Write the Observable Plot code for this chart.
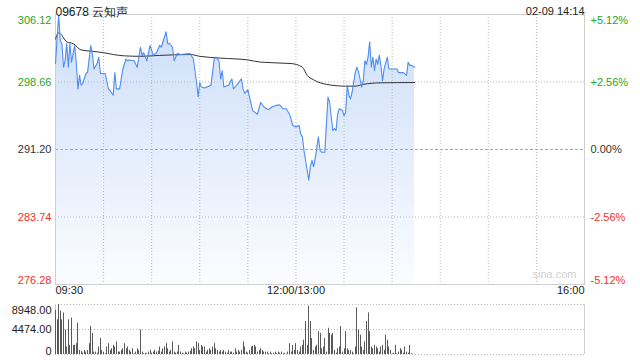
<!DOCTYPE html>
<html><head><meta charset="utf-8">
<script src="https://cdn.jsdelivr.net/npm/d3@7"></script>
<script src="https://cdn.jsdelivr.net/npm/@observablehq/plot@0.6"></script>
<style>
body{margin:0;background:#fff;font-family:"Liberation Sans",Arial,sans-serif;}
#wrap{position:relative;width:640px;height:360px;overflow:hidden;background:#fff}
#main,#vol{position:absolute;left:0}
#main{top:0}#vol{top:300px}
</style></head><body><div id="wrap"><div id="main"></div><div id="vol"></div></div>
<script>
const title = "09678 云知声";
const stamp = "02-09 14:14";
const prevClose = 291.20;
const priceTicks = [306.12, 298.66, 291.20, 283.74, 276.28];
const pctLabels = ["+5.12%", "+2.56%", "0.00%", "-2.56%", "-5.12%"];
const timeTicks = ["09:30", "12:00", "16:00"];
const timeLabels = ["09:30", "12:00/13:00", "16:00"];
const volTicks = [8948, 4474, 0];
const volLabels = ["8948.00", "4474.00", "0"];

const priceTimes = ["09:30","09:31","09:32","09:33","09:34","09:35","09:36","09:37","09:38","09:39","09:40","09:42","09:43","09:44","09:45","09:46","09:47","09:49","09:50","09:52","09:53","09:54","09:56","09:57","09:58","10:01","10:02","10:03","10:04","10:06","10:07","10:08","10:10","10:12","10:14","10:15","10:16","10:19","10:21","10:23","10:24","10:25","10:27","10:29","10:31","10:33","10:35","10:36","10:39","10:40","10:41","10:43","10:44","10:46","10:48","10:54","10:56","10:58","10:59","11:00","11:01","11:03","11:07","11:09","11:10","11:12","11:13","11:14","11:15","11:18","11:20","11:21","11:23","11:26","11:27","11:28","11:30","11:33","11:36","11:38","11:40","11:43","11:45","11:48","11:50","11:52","11:54","11:56","11:58","12:00","13:02","13:03","13:04","13:05","13:06","13:07","13:08","13:09","13:10","13:11","13:12","13:14","13:15","13:16","13:18","13:19","13:20","13:21","13:23","13:24","13:25","13:26","13:27","13:29","13:30","13:31","13:32","13:33","13:34","13:35","13:37","13:38","13:39","13:41","13:42","13:43","13:44","13:45","13:46","13:47","13:48","13:49","13:50","13:51","13:52","13:53","13:54","13:55","13:57","13:58","14:01","14:03","14:04","14:07","14:09","14:10","14:11","14:12","14:14"];
const priceValues = [300.7,303.5,306.0,303.2,302.9,300.3,301.0,302.9,300.3,302.9,300.85,302.7,300.7,297.9,299.4,298.3,298.5,299.6,299.7,302.7,301.8,300.1,300.7,301.4,299.6,299.6,298.8,297.9,297.7,297.2,299.7,297.9,297.9,300.1,301.2,301.0,301.1,301.0,300.3,302.5,301.6,301.9,301.0,302.7,301.6,301.9,302.7,302.5,304.2,302.9,302.9,302.5,301.0,301.8,301.7,301.8,301.2,298.6,297.0,298.6,298.1,298.0,298.3,301.2,301.4,301.0,299.0,299.9,298.1,298.3,299.0,297.9,298.3,299.0,297.9,297.4,297.8,295.5,295.1,296.4,295.9,295.6,295.9,296.1,296.1,295.7,295.7,295.1,293.85,293.7,293.85,292.9,292.6,291.1,290.0,288.9,287.8,289.3,290.0,289.3,290.2,292.6,291.1,290.9,290.9,294.0,297.0,296.4,293.3,293.5,293.3,295.1,295.7,295.5,294.96,295.3,298.3,297.2,296.8,297.5,299.7,300.3,299.8,298.1,298.8,301.0,300.6,301.4,303.1,300.3,301.4,299.9,301.2,300.6,301.6,300.5,298.8,300.1,301.4,300.1,300.1,300.1,299.7,299.7,299.4,300.85,300.5,300.5,300.3];

const avgTimes = ["09:30","09:32","09:33","09:37","09:41","09:46","09:52","10:00","10:06","10:13","10:23","10:35","10:54","11:00","11:13","11:30","11:38","11:57","13:04","13:07","13:11","13:19","13:31","13:37","13:42","13:53","14:14"];
const avgValues = [303.4,304.1,304.0,303.1,302.9,302.2,302.07,301.9,301.7,301.55,301.5,301.6,301.7,301.5,301.3,301.1,300.85,300.7,300.3,299.4,298.9,298.4,298.2,298.2,298.4,298.57,298.6];

// one value per minute from 09:30 (afternoon continues at 13:00)
const volumes = [7910,6210,8948,7730,6210,7430,4380,1340,6210,1640,
6510,1640,1640,1950,5600,730,550,240,730,430,
730,1950,4990,3770,430,430,240,1340,2860,730,430,
120,1340,1950,730,1030,1640,1340,2250,430,430,
730,1030,1950,1030,1340,730,430,1030,120,430,1030,730,
4380,430,120,240,120,430,730,240,430,
730,430,610,1340,430,1030,1340,1950,1030,430,
730,2250,430,240,430,1640,430,240,120,430,240,
430,610,1030,1340,1030,2250,1950,730,1640,1340,
1340,430,730,1030,730,1340,1950,1030,730,430,
730,430,730,430,240,730,430,430,240,
1030,430,730,430,730,2250,1340,430,240,730,1340,1460,1640,1340,430,730,1030,730,430,
430,430,120,430,120,240,430,120,430,240,430,120,240,60,430,1950,430,1640,730,
1950,730,430,1340,1640,2560,5900,1640,8640,5900,2860,730,1340,1640,4080,3770,1030,
1340,2860,430,4690,3770,3470,3770,730,240,1030,1340,4990,430,1030,4080,1030,730,
730,430,120,1340,8340,4380,3470,1340,730,2250,5900,7430,4080,1340,1030,1640,1340,1030,430,
1340,1640,730,3470,2560,1340,730,120,240,1640,120,430,1030,730,240,
1340,430,240,1640,120,60,60];

function idx(t) {
  const [h, m] = t.split(":").map(Number);
  const mins = h * 60 + m - (9 * 60 + 30);
  return mins >= 210 ? mins - 60 : mins;
}
const priceData = priceTimes.map((t, k) => ({i: idx(t), p: priceValues[k]}));
const avgData = avgTimes.map((t, k) => ({i: idx(t), p: avgValues[k]}));
const volData = volumes.map((v, i) => ({i, v}));
const tickData = priceTicks.map((p, k) => ({p, pct: pctLabels[k]}));
const colorOf = p => p > prevClose ? "#1fa51f" : p < prevClose ? "#f0302c" : "#333";
const vGrid = d3.range(30, 330, 30);
const font = "'Liberation Sans', Arial, sans-serif";

const gradient = () => {
  const defs = document.createElementNS("http://www.w3.org/2000/svg", "defs");
  defs.innerHTML = '<linearGradient id="areaGrad" x1="0" y1="0" x2="0" y2="1"><stop offset="0%" stop-color="#cddef9"/><stop offset="100%" stop-color="#fbfcff"/></linearGradient>';
  return defs;
};

const main = Plot.plot({
  width: 640, height: 300,
  marginLeft: 55, marginRight: 56, marginTop: 14, marginBottom: 16,
  x: {domain: [0, 330], axis: null},
  y: {domain: [priceTicks[4], priceTicks[0]], axis: null},
  color: {type: "identity"},
  style: {fontFamily: font, fontSize: "11px", background: "transparent"},
  marks: [
    gradient,
    Plot.areaY(priceData, {x: "i", y1: () => priceTicks[4], y2: "p", fill: "url(#areaGrad)"}),
    Plot.ruleX(vGrid, {x: d => d, stroke: "#b8b8b8", strokeDasharray: "1,2"}),
    Plot.ruleY([priceTicks[1], priceTicks[3]], {y: d => d, stroke: "#b8b8b8", strokeDasharray: "1,2"}),
    Plot.ruleY([prevClose], {y: d => d, stroke: "#a8a8a8", strokeDasharray: "3,2"}),
    Plot.frame({stroke: "#cfcfcf"}),
    Plot.line(avgData, {x: "i", y: "p", stroke: "#333", strokeWidth: 1, curve: "monotone-x"}),
    Plot.line(priceData, {x: "i", y: "p", stroke: "#4d8ef0", strokeWidth: 1.1}),
    // left price labels
    Plot.text(tickData.slice(0, 1), {y: "p", text: d => d.p.toFixed(2), frameAnchor: "left", textAnchor: "end", lineAnchor: "top", dx: -4, dy: 2, fill: d => colorOf(d.p)}),
    Plot.text(tickData.slice(1, 4), {y: "p", text: d => d.p.toFixed(2), frameAnchor: "left", textAnchor: "end", dx: -4, fill: d => colorOf(d.p)}),
    Plot.text(tickData.slice(4), {y: "p", text: d => d.p.toFixed(2), frameAnchor: "left", textAnchor: "end", lineAnchor: "bottom", dx: -4, dy: -1, fill: d => colorOf(d.p)}),
    // right percent labels
    Plot.text(tickData.slice(0, 1), {y: "p", text: "pct", frameAnchor: "right", textAnchor: "start", lineAnchor: "top", dx: 6, dy: 2, fill: d => colorOf(d.p)}),
    Plot.text(tickData.slice(1, 4), {y: "p", text: "pct", frameAnchor: "right", textAnchor: "start", dx: 6, fill: d => colorOf(d.p)}),
    Plot.text(tickData.slice(4), {y: "p", text: "pct", frameAnchor: "right", textAnchor: "start", lineAnchor: "bottom", dx: 6, dy: -1, fill: d => colorOf(d.p)}),
    // time labels
    Plot.text([0], {x: () => idx(timeTicks[0]), text: () => timeLabels[0], frameAnchor: "bottom", textAnchor: "start", dy: 9, fill: "#222"}),
    Plot.text([0], {x: () => idx(timeTicks[1]), text: () => timeLabels[1], frameAnchor: "bottom", textAnchor: "middle", dy: 9, fill: "#222"}),
    Plot.text([0], {x: () => idx(timeTicks[2]), text: () => timeLabels[2], frameAnchor: "bottom", textAnchor: "end", dy: 9, fill: "#222"}),
    // title and timestamp
    Plot.text([title], {frameAnchor: "top-left", textAnchor: "start", dy: -7, fontSize: 12, fill: "#222"}),
    Plot.text([stamp], {frameAnchor: "top-right", textAnchor: "end", dy: -7, fill: "#222"}),
    Plot.text(["sina.com"], {frameAnchor: "bottom-right", textAnchor: "end", dx: -8, dy: -7, fill: "#cfcfcf"})
  ]
});
document.getElementById("main").appendChild(main);

const vol = Plot.plot({
  width: 640, height: 60,
  marginLeft: 55, marginRight: 56, marginTop: 4, marginBottom: 6,
  x: {domain: [0, 330], axis: null, round: true},
  y: {domain: [0, volTicks[0]], axis: null},
  style: {fontFamily: font, fontSize: "11px", background: "transparent"},
  marks: [
    Plot.ruleY(volTicks, {y: d => d, stroke: "#b8b8b8", strokeDasharray: "1,2"}),
    Plot.ruleX([0, 330], {x: d => d, stroke: "#d0d0d0"}),
    Plot.ruleX(volData, {x: "i", y1: () => 0, y2: "v", stroke: "#5a5a5a", strokeWidth: 1}),
    Plot.text(volTicks.slice(0, 1), {y: d => d, text: () => volLabels[0], frameAnchor: "left", textAnchor: "end", lineAnchor: "top", dx: -4, dy: 2, fill: "#222"}),
    Plot.text(volTicks.slice(1, 2), {y: d => d, text: () => volLabels[1], frameAnchor: "left", textAnchor: "end", dx: -4, fill: "#222"}),
    Plot.text(volTicks.slice(2), {y: d => d, text: () => volLabels[2], frameAnchor: "left", textAnchor: "end", lineAnchor: "bottom", dx: -4, dy: 0, fill: "#222"})
  ]
});
document.getElementById("vol").appendChild(vol);
</script>
</body></html>
